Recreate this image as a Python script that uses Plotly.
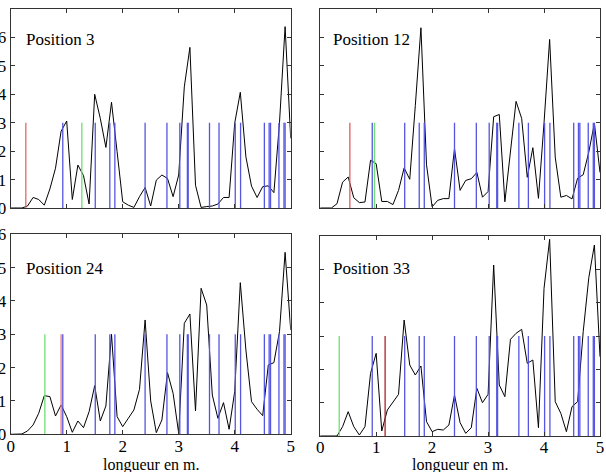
import plotly.graph_objects as go

# sampling positions (m)
X = [0.0, 0.1, 0.2, 0.3, 0.4, 0.5, 0.6, 0.7, 0.8, 0.9,
     1.0, 1.1, 1.2, 1.3, 1.4, 1.5, 1.6, 1.7, 1.8, 1.9,
     2.0, 2.1, 2.2, 2.3, 2.4, 2.5, 2.6, 2.7, 2.8, 2.9,
     3.0, 3.1, 3.2, 3.3, 3.4, 3.5, 3.6, 3.7, 3.8, 3.9,
     4.0, 4.1, 4.2, 4.3, 4.4, 4.5, 4.6, 4.7, 4.8, 4.9, 5.0]

P3 = [0, 0, 0, 0.07, 0.37, 0.3, 0.1, 0.67, 1.4, 2.7,
      3.06, 0.3, 1.51, 1.14, 0.14, 4.0, 3.15, 2.13, 3.72, 1.98,
      0.22, 0.1, 0.02, 0.4, 0.72, 0.07, 0.98, 1.16, 1.04, 0.4,
      1.16, 4.26, 5.65, 0.8, 0.02, 0.05, 0.07, 0.14, 0.37, 0.37,
      2.98, 4.07, 1.8, 0.77, 0.37, 0.75, 0.78, 0.54, 3.0, 6.38, 2.45]

P12 = [0, 0, 0, 0.15, 0.91, 1.09, 0.36, 0.19, 0.21, 1.68,
       1.56, 0.23, 0.23, 0.12, 0.62, 1.41, 1.01, 3.61, 6.34, 1.52,
       0.04, 0.27, 0.33, 0.33, 2.09, 0.62, 0.97, 1.03, 1.25, 0.38,
       0.58, 3.21, 3.29, 0.22, 1.96, 3.75, 3.15, 1.08, 2.12, 0.34,
       3.0, 5.93, 1.79, 0.38, 0.44, 0.32, 1.05, 1.17, 1.97, 2.98, 1.25]

P24 = [0, 0, 0.01, 0.1, 0.28, 0.63, 1.16, 1.13, 0.55, 0.88,
       0.53, 0.06, 0.4, 0.2, 0.68, 1.46, 0.4, 0.85, 3.0, 0.53,
       0.23, 0.48, 0.73, 1.35, 3.43, 1.0, 0.05, 0.43, 1.85, 1.23,
       0.03, 3.33, 3.61, 0.7, 4.38, 3.88, 1.18, 0.48, 0.95, 0.15,
       1.28, 4.55, 2.53, 0.98, 0.75, 0.56, 2.08, 2.15, 3.08, 5.46, 3.13]

P33 = [0, 0, 0, 0, 0.28, 0.73, 0.28, 0.03, 0.28, 1.88,
       2.48, 0.15, 0.78, 1.0, 1.25, 3.48, 2.13, 1.83, 2.1, 0.43,
       0.13, 0.2, 0.18, 0.33, 1.23, 0.4, 0.08, 0.25, 1.43, 1.0,
       1.25, 5.13, 1.53, 1.18, 2.9, 3.08, 3.2, 2.18, 2.28, 0.25,
       4.43, 5.9, 1.03, 0.68, 0.13, 0.88, 1.03, 3.13, 4.75, 5.73, 2.38]

# marker positions (m)
BLUE = [0.93, 1.51, 1.77, 1.86, 2.40, 2.79, 3.02, 3.155, 3.17, 3.55,
        3.72, 4.01, 4.105, 4.53, 4.615, 4.64, 4.79, 4.88, 4.90]
RED = [0.27, 0.53, 0.90, 1.16]
GREEN = [1.27, 0.97, 0.61, 0.34]
MARK_HEIGHT = 3

TITLES = ["Position 3", "Position 12", "Position 24", "Position 33"]
SERIES = [P3, P12, P24, P33]
YMAX = [7, 7, 6, 6]
TICKS_X = [0, 1, 2, 3, 4, 5]

RED_COL = ["rgb(225,105,105)", "rgb(225,90,90)", "rgb(240,120,120)", "rgb(170,35,35)"]
GREEN_COL = "rgb(110,225,110)"
BLUE_COL = "rgb(85,85,225)"

W, H = 606, 472
DOM_X = [[10.7 / W, 290.7 / W], [320.2 / W, 600 / W], [10.7 / W, 290.7 / W], [320.2 / W, 600 / W]]
DOM_Y = [[(H - 208) / H, (H - 9) / H], [(H - 208) / H, (H - 9) / H],
         [(H - 434.3) / H, (H - 234.3) / H], [(H - 436) / H, (H - 236) / H]]
LABEL_POS = [(0.24, 5.94), (0.19, 5.94), (0.24, 4.98), (0.19, 5.03)]

FONT = "Liberation Serif"


def vlines(xs):
    xx, yy = [], []
    for v in xs:
        xx += [v, v, None]
        yy += [0, MARK_HEIGHT, None]
    return xx, yy


fig = go.Figure()
annotations = []
for i in range(4):
    ax = "" if i == 0 else str(i + 1)
    xr, yr = "x" + ax, "y" + ax
    fig.add_trace(go.Scatter(x=X, y=SERIES[i], mode="lines",
                             line=dict(color="black", width=1),
                             xaxis=xr, yaxis=yr, showlegend=False, hoverinfo="skip"))
    bx, by = vlines(BLUE)
    fig.add_trace(go.Scatter(x=bx, y=by, mode="lines", line=dict(color=BLUE_COL, width=1.3),
                             xaxis=xr, yaxis=yr, showlegend=False, hoverinfo="skip"))
    rx, ry = vlines([RED[i]])
    fig.add_trace(go.Scatter(x=rx, y=ry, mode="lines", line=dict(color=RED_COL[i], width=1.3),
                             xaxis=xr, yaxis=yr, showlegend=False, hoverinfo="skip"))
    gx, gy = vlines([GREEN[i]])
    fig.add_trace(go.Scatter(x=gx, y=gy, mode="lines", line=dict(color=GREEN_COL, width=1.3),
                             xaxis=xr, yaxis=yr, showlegend=False, hoverinfo="skip"))

    bottom = i >= 2
    left = i % 2 == 0
    fig.update_layout(**{
        ("xaxis" + ax): dict(domain=DOM_X[i], range=[0, 5], tickvals=TICKS_X,
                             showticklabels=bottom, ticks="inside", ticklen=4,
                             tickcolor="#333", showline=True, linecolor="#333", linewidth=1,
                             mirror="ticks", showgrid=False, zeroline=False,
                             anchor=yr, automargin=False, ticklabelstandoff=-4,
                             tickfont=dict(family=FONT, size=17, color="black")),
        ("yaxis" + ax): dict(domain=DOM_Y[i], range=[0, YMAX[i]], dtick=1,
                             showticklabels=left, ticks="inside", ticklen=4,
                             tickcolor="#333", showline=True, linecolor="#333", linewidth=1,
                             mirror="ticks", showgrid=False, zeroline=False,
                             anchor=xr, automargin=False,
                             tickfont=dict(family=FONT, size=17, color="black")),
    })
    annotations.append(dict(text=TITLES[i], x=LABEL_POS[i][0], y=LABEL_POS[i][1],
                            xref=xr, yref=yr, xanchor="left", yanchor="middle",
                            showarrow=False, font=dict(family=FONT, size=17, color="black")))
    if bottom:
        annotations.append(dict(text="longueur en m.", x=2.5, y=(H - 454) / H,
                                xref=xr, yref="paper", xanchor="center", yanchor="top",
                                showarrow=False, font=dict(family=FONT, size=16, color="black")))

fig.update_layout(width=W, height=H, margin=dict(l=0, r=0, t=0, b=0),
                  paper_bgcolor="white", plot_bgcolor="white",
                  annotations=annotations, template="none")

fig.write_html("out.html")
